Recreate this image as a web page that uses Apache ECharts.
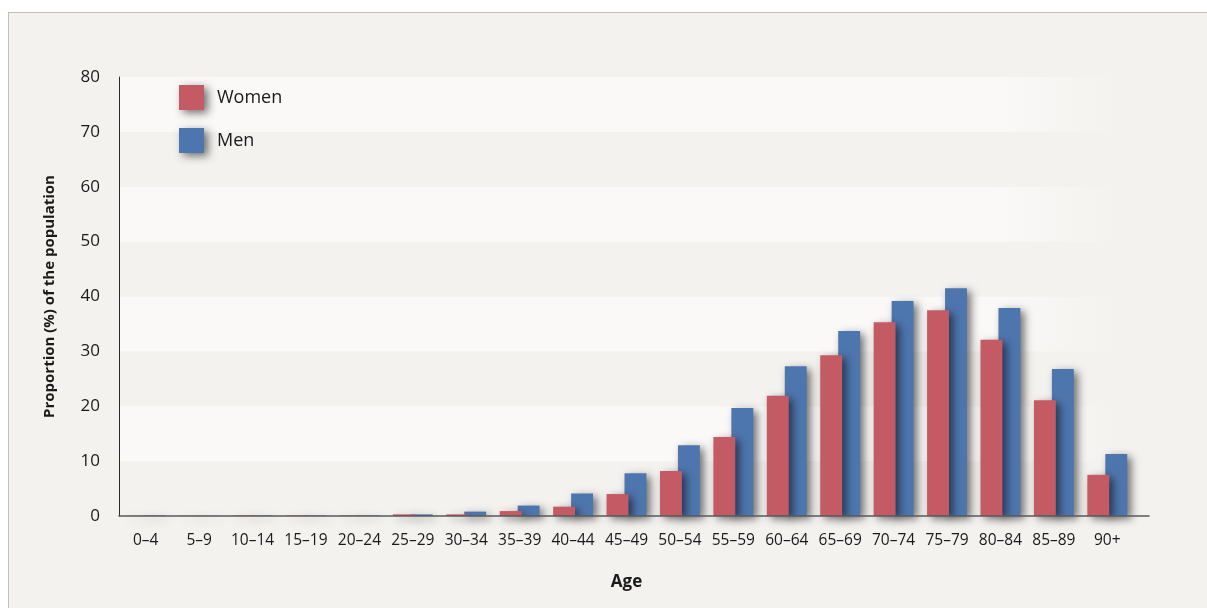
<!DOCTYPE html>
<html>
<head>
<meta charset="utf-8">
<script src="https://cdn.jsdelivr.net/npm/echarts@6/dist/echarts.min.js"></script>
<style>
  html, body { margin: 0; padding: 0; background: #ffffff; overflow: hidden; }
  #panel {
    position: absolute; left: 8px; top: 12px; width: 1220px; height: 620px;
    background: #f3f2ef; border: 1.5px solid #c6beb6; box-sizing: border-box;
  }
  #chart { position: absolute; left: 0; top: 0; width: 1207px; height: 608px; }
</style>
</head>
<body>
<div id="panel"></div>
<div id="chart"></div>
<script>
// Age groups and share of each group (%) for women and men
const ageGroups = ['0–4', '5–9', '10–14', '15–19', '20–24', '25–29', '30–34', '35–39', '40–44',
  '45–49', '50–54', '55–59', '60–64', '65–69', '70–74', '75–79', '80–84', '85–89', '90+'];
const women = [0.05, 0.05, 0.1, 0.1, 0.1, 0.3, 0.3, 0.9, 1.7, 4.0, 8.2, 14.4, 21.9, 29.3, 35.3, 37.5, 32.1, 21.1, 7.5];
const men   = [0.1, 0.05, 0.1, 0.1, 0.1, 0.3, 0.8, 1.9, 4.1, 7.8, 12.9, 19.7, 27.3, 33.7, 39.2, 41.5, 37.9, 26.8, 11.3];
const yTicks = { min: 0, max: 80, step: 10 };

const FONT = '"Open Sans", "Noto Sans", sans-serif';
const RED = '#c45a64';
const BLUE = '#4e76ae';
const shadow = { shadowColor: 'rgba(0,0,0,0.55)', shadowBlur: 8, shadowOffsetX: 4, shadowOffsetY: 3 };

// light stripes fade into the panel colour towards the right edge
const lightBand = new echarts.graphic.LinearGradient(0, 0, 1, 0, [
  { offset: 0, color: '#faf9f7' },
  { offset: 0.85, color: '#faf9f7' },
  { offset: 0.97, color: '#f3f2ef' },
  { offset: 1, color: '#f3f2ef' }
]);

const chart = echarts.init(document.getElementById('chart'), null, { renderer: 'canvas' });
chart.setOption({
  backgroundColor: 'transparent',
  animation: false,
  legend: {
    orient: 'vertical',
    left: 174, top: 80,
    itemWidth: 25, itemHeight: 25, itemGap: 18,
    icon: 'rect',
    data: ['Women', 'Men'],
    textStyle: { fontFamily: FONT, fontSize: 18, color: '#1a1a1a', padding: [2, 0, 0, 8] },
    itemStyle: shadow
  },
  grid: [
    { left: 119, right: 73, top: 77, bottom: 92 },   // bars
    { left: 119, right: 58, top: 77, bottom: 92 }    // frame, stripes, labels
  ],
  xAxis: [
    {
      gridIndex: 0, type: 'category', data: ageGroups,
      axisLine: { show: false }, axisTick: { show: false },
      axisLabel: { interval: 0, hideOverlap: false, fontFamily: FONT, fontSize: 15.5, color: '#1a1a1a', margin: 17 },
      name: 'Age', nameLocation: 'middle', nameGap: 58,
      nameTextStyle: { fontFamily: FONT, fontSize: 17, fontWeight: 'bold', color: '#1a1a1a' }
    },
    {
      gridIndex: 1, type: 'value', min: 0, max: 1, z: 5,
      axisLine: { show: true, lineStyle: { color: '#5a5a5a', width: 1.6 } },
      axisTick: { show: false }, axisLabel: { show: false }, splitLine: { show: false }
    }
  ],
  yAxis: [
    {
      gridIndex: 0, type: 'value', min: yTicks.min, max: yTicks.max, interval: yTicks.step,
      show: false
    },
    {
      gridIndex: 1, type: 'value', min: yTicks.min, max: yTicks.max, interval: yTicks.step,
      axisLine: { show: true, lineStyle: { color: '#2a2a2a', width: 1 } },
      axisTick: { show: false },
      axisLabel: { fontFamily: FONT, fontSize: 17, color: '#1a1a1a', margin: 19 },
      splitLine: { show: false },
      splitArea: { show: true, areaStyle: { color: ['#f3f2ef', lightBand] } },
      name: 'Proportion (%) of the population', nameLocation: 'middle', nameGap: 62,
      nameTextStyle: { fontFamily: FONT, fontSize: 15, fontWeight: 'bold', color: '#1a1a1a' }
    }
  ],
  series: [
    {
      name: 'Women', type: 'bar', xAxisIndex: 0, yAxisIndex: 0, data: women,
      barWidth: '41%', barGap: '-18%', z: 3,
      itemStyle: Object.assign({ color: RED }, shadow)
    },
    {
      name: 'Men', type: 'bar', xAxisIndex: 0, yAxisIndex: 0, data: men,
      barWidth: '41%', z: 2,
      itemStyle: Object.assign({ color: BLUE }, shadow)
    }
  ]
});
</script>
</body>
</html>
